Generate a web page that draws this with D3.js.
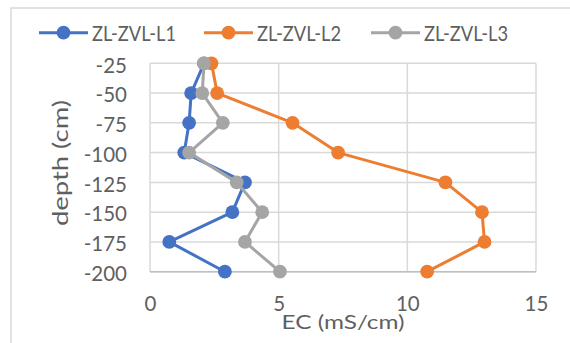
<!DOCTYPE html>
<html>
<head>
<meta charset="utf-8">
<script src="https://cdn.jsdelivr.net/npm/d3@7"></script>
<style>
  html, body { margin: 0; padding: 0; background: #fff; }
  svg { display: block; }
  text { font-family: Lato, "Open Sans", sans-serif; font-weight: 400; fill: #5f5f5f; }
</style>
</head>
<body>
<svg id="chart" width="570" height="343"></svg>
<script>
// Depth profile of electrical conductivity for three sampling points
const depths = [-25, -50, -75, -100, -125, -150, -175, -200];
const seriesNames = ["ZL-ZVL-L1", "ZL-ZVL-L2", "ZL-ZVL-L3"];
const ecL1 = [2.1, 1.6, 1.52, 1.33, 3.69, 3.2, 0.75, 2.91];
const ecL2 = [2.39, 2.61, 5.54, 7.31, 11.48, 12.9, 13.0, 10.77];
const ecL3 = [2.1, 2.03, 2.83, 1.52, 3.37, 4.36, 3.69, 5.05];
const xTicks = [0, 5, 10, 15];
const yTicks = [-25, -50, -75, -100, -125, -150, -175, -200];
const colors = ["#4472C4", "#ED7D31", "#A5A5A5"];

const series = [ecL1, ecL2, ecL3].map((vals, i) => ({
  name: seriesNames[i],
  color: colors[i],
  points: vals.map((v, j) => ({ ec: v, depth: depths[j] }))
}));

const FS = 20.5;
const svg = d3.select("#chart");

// outer chart frame
svg.append("rect")
  .attr("x", 11).attr("y", 8)
  .attr("width", 700).attr("height", 500)
  .attr("fill", "none").attr("stroke", "#d9d9d9").attr("stroke-width", 1.5);

const plot = { left: 150, right: 536, top: 63.3, bottom: 271.7 };
const x = d3.scaleLinear().domain([0, 15]).range([plot.left, plot.right]);
const y = d3.scaleLinear().domain([-25, -200]).range([plot.top, plot.bottom]);

// gridlines
const grid = svg.append("g");
grid.selectAll(".hg").data(yTicks).join("line")
  .attr("x1", plot.left).attr("x2", plot.right)
  .attr("y1", d => y(d)).attr("y2", d => y(d))
  .attr("stroke", "#d9d9d9").attr("stroke-width", 1.5);
grid.selectAll(".vg").data(xTicks).join("line")
  .attr("x1", d => x(d)).attr("x2", d => x(d))
  .attr("y1", plot.top).attr("y2", plot.bottom)
  .attr("stroke", "#d9d9d9").attr("stroke-width", 1.5);
// bottom axis line
svg.append("line")
  .attr("x1", plot.left).attr("x2", plot.right)
  .attr("y1", plot.bottom).attr("y2", plot.bottom)
  .attr("stroke", "#bfbfbf").attr("stroke-width", 1.5);

// axes (labels only), plain hyphen for negatives
const fmt = d => String(d);
const xAxis = svg.append("g")
  .attr("transform", `translate(0,${plot.bottom})`)
  .call(d3.axisBottom(x).tickValues(xTicks).tickFormat(fmt).tickSize(0).tickPadding(25));
const yAxis = svg.append("g")
  .attr("transform", `translate(${plot.left},0)`)
  .call(d3.axisLeft(y).tickValues(yTicks).tickFormat(fmt).tickSize(0).tickPadding(23));
[xAxis, yAxis].forEach(g => {
  g.select(".domain").remove();
  g.selectAll("text").attr("font-size", FS).attr("fill", "#5f5f5f")
    .style("font-family", "Lato, 'Open Sans', sans-serif")
    .style("font-weight", 400);
});
yAxis.selectAll("text").attr("dy", "0.43em");

// axis titles
svg.append("text")
  .attr("x", (plot.left + plot.right) / 2).attr("y", 329)
  .attr("text-anchor", "middle").attr("font-size", 20)
  .attr("textLength", 123).attr("lengthAdjust", "spacingAndGlyphs")
  .text("EC (mS/cm)");
svg.append("text")
  .attr("transform", `translate(68,163) rotate(-90)`)
  .attr("text-anchor", "middle").attr("font-size", FS)
  .attr("textLength", 126).attr("lengthAdjust", "spacingAndGlyphs")
  .text("depth (cm)");

// series lines and markers
const line = d3.line().x(d => x(d.ec)).y(d => y(d.depth));
series.forEach(s => {
  const g = svg.append("g");
  g.append("path").datum(s.points)
    .attr("d", line).attr("fill", "none")
    .attr("stroke", s.color).attr("stroke-width", 3)
    .attr("stroke-linejoin", "round");
  g.selectAll("circle").data(s.points).join("circle")
    .attr("cx", d => x(d.ec)).attr("cy", d => y(d.depth))
    .attr("r", 6.9).attr("fill", s.color);
});

// legend
const legendX = [39, 204, 371];
const legend = svg.append("g");
series.forEach((s, i) => {
  const lx = legendX[i];
  legend.append("line")
    .attr("x1", lx).attr("x2", lx + 49)
    .attr("y1", 32.7).attr("y2", 32.7)
    .attr("stroke", s.color).attr("stroke-width", 3);
  legend.append("circle")
    .attr("cx", lx + 24.5).attr("cy", 32.7).attr("r", 6.9).attr("fill", s.color);
  legend.append("text")
    .attr("x", lx + 53).attr("y", 40.7)
    .attr("font-size", FS)
    .attr("textLength", 84).attr("lengthAdjust", "spacingAndGlyphs")
    .text(s.name);
});
</script>
</body>
</html>
